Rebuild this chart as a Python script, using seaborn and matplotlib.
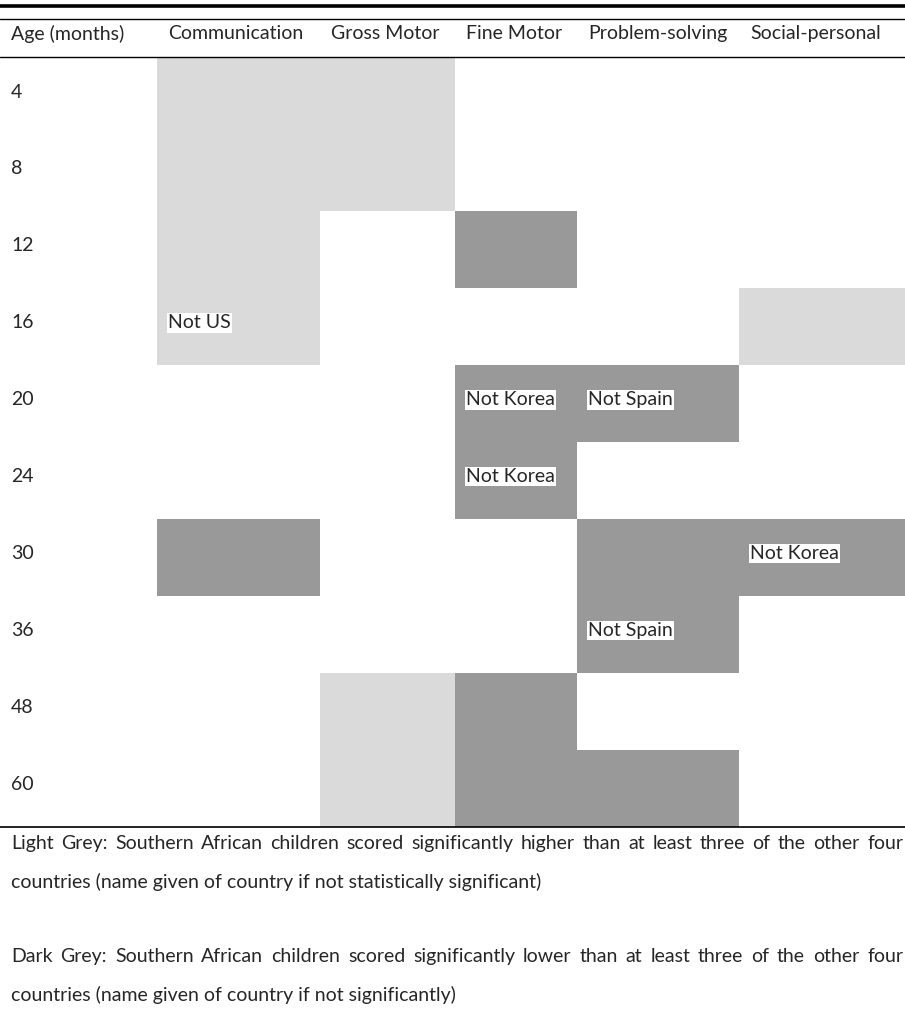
import numpy as np
import pandas as pd
import seaborn as sns
import matplotlib.pyplot as plt
from matplotlib.colors import ListedColormap
from matplotlib.lines import Line2D

# table content
ages = ["4", "8", "12", "16", "20", "24", "30", "36", "48", "60"]
domains = ["Communication", "Gross Motor", "Fine Motor", "Problem-solving", "Social-personal"]
# 0 = no difference, 1 = light grey (higher), 2 = dark grey (lower)
communication = [1, 1, 1, 1, 0, 0, 2, 0, 0, 0]
gross_motor = [1, 1, 0, 0, 0, 0, 0, 0, 1, 1]
fine_motor = [0, 0, 2, 0, 2, 2, 0, 0, 2, 2]
problem_solving = [0, 0, 0, 0, 2, 0, 2, 2, 0, 2]
social_personal = [0, 0, 0, 1, 0, 0, 2, 0, 0, 0]
# exceptions written in cells: (age, domain, text)
notes = [("16", "Communication", "Not US"),
         ("20", "Fine Motor", "Not Korea"),
         ("20", "Problem-solving", "Not Spain"),
         ("24", "Fine Motor", "Not Korea"),
         ("30", "Social-personal", "Not Korea"),
         ("36", "Problem-solving", "Not Spain")]
footnotes = [
    "Light Grey: Southern African children scored significantly higher than at least three of the other four",
    "countries (name given of country if not statistically significant)",
    "Dark Grey: Southern African children scored significantly lower than at least three of the other four",
    "countries (name given of country if not significantly)",
]
justified = [True, False, True, False]

grid = pd.DataFrame({"Communication": communication, "Gross Motor": gross_motor,
                     "Fine Motor": fine_motor, "Problem-solving": problem_solving,
                     "Social-personal": social_personal}, index=ages)

sns.set_theme(style="white")
plt.rcParams["font.family"] = ["Lato", "DejaVu Sans"]
FS = 14
VA = "center_baseline"

W, H = 905, 1017
fig = plt.figure(figsize=(W / 100, H / 100), dpi=100)

# column edges in pixels (columns have unequal widths)
col_px = np.array([157, 320, 455, 577, 739, 905])
top_px, bot_px = 57.5, 826.5
ax = fig.add_axes([col_px[0] / W, 1 - bot_px / H, (col_px[-1] - col_px[0]) / W, (bot_px - top_px) / H])

cmap = ListedColormap(["#ffffff", "#dadada", "#999999"])
sns.heatmap(grid, ax=ax, cmap=cmap, vmin=-0.5, vmax=2.5, cbar=False,
            xticklabels=False, yticklabels=False, linewidths=0)

idx = np.arange(len(col_px))
ax.set_xscale("function", functions=(lambda x: np.interp(x, idx, col_px),
                                     lambda x: np.interp(x, col_px, idx)))
ax.set_xlim(0, len(domains))
ax.set_ylim(len(ages), 0)
ax.set_xticks([])
ax.set_yticks([])
for s in ax.spines.values():
    s.set_visible(False)

# header
hy = 1 - 32 / H
fig.text(11 / W, hy, "Age (months)", fontsize=FS, ha="left", va=VA)
for j, d in enumerate(domains):
    fig.text((col_px[j] + 11) / W, hy, d, fontsize=FS, ha="left", va=VA)

# age labels
for i, a in enumerate(ages):
    ax.annotate(a, xy=(0, i + 0.43), xycoords=("figure fraction", "data"),
                xytext=(11 * 0.72, 0), textcoords="offset points",
                fontsize=FS, ha="left", va=VA, annotation_clip=False)

# exception labels
for a, d, t in notes:
    ax.annotate(t, xy=(domains.index(d), ages.index(a) + 0.43),
                xytext=(8, 0), textcoords="offset points", fontsize=FS,
                ha="left", va=VA,
                bbox=dict(facecolor="white", edgecolor="none", pad=1.0))

# rules
for y, lw in [(6, 2.6), (18.5, 1.0), (57, 1.0), (826.5, 1.2)]:
    fig.add_artist(Line2D([0, 1], [1 - y / H, 1 - y / H], color="black",
                          linewidth=lw, transform=fig.transFigure))

# footnotes (full lines justified to the page width)
renderer = fig.canvas.get_renderer()
left, right = 11, 903
for y, t, just in zip([842, 880, 955, 993], footnotes, justified):
    yf = 1 - y / H
    if not just:
        fig.text(left / W, yf, t, fontsize=FS, ha="left", va=VA)
        continue
    words = t.split(" ")
    arts = [fig.text(0, yf, w, fontsize=FS, ha="left", va=VA) for w in words]
    widths = [a.get_window_extent(renderer).width for a in arts]
    gap = (right - left - sum(widths)) / (len(words) - 1)
    x = left
    for a, w in zip(arts, widths):
        a.set_x(x / W)
        x += w + gap

fig.savefig("out.png", dpi=100)
